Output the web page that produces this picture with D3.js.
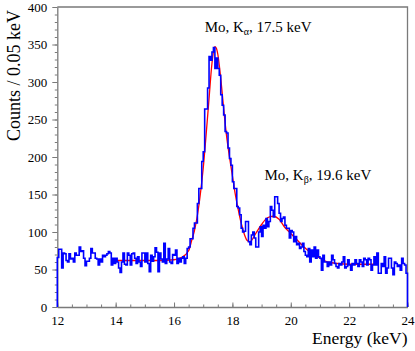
<!DOCTYPE html>
<html>
<head>
<meta charset="utf-8">
<script src="https://cdn.jsdelivr.net/npm/d3@7"></script>
<style>
    body { margin: 0; background: #fff; }
    svg text { font-family: "Liberation Serif", "Times New Roman", serif; fill: #000; }
</style>
</head>
<body>
<div id="chart-area"></div>
<script>
// Bin settings (0.05 keV bins from 12 to 24 keV)
const binStart = 12;
const binWidth = 0.05;

// Counts per bin
const counts = [
    66, 77, 77, 52, 72, 71, 62, 60, 71, 64, 65, 60, 72, 69, 69, 80, 74, 75, 65, 55,
    61, 61, 65, 78, 72, 72, 65, 64, 56, 64, 60, 69, 67, 69, 71, 74, 72, 56, 65, 58,
    65, 60, 52, 46, 60, 72, 57, 56, 72, 69, 56, 71, 72, 65, 58, 67, 60, 54, 72, 72,
    60, 72, 58, 47, 69, 61, 67, 79, 73, 47, 72, 64, 60, 85, 58, 64, 78, 60, 58, 70,
    69, 76, 58, 65, 60, 65, 67, 58, 65, 78, 80, 91, 91, 105, 112, 112, 138, 158, 158, 194,
    207, 264, 264, 292, 334, 329, 340, 346, 318, 332, 318, 309, 283, 269, 256, 234, 232, 212, 198, 189,
    167, 158, 158, 134, 132, 123, 105, 100, 101, 114, 114, 87, 83, 96, 100, 92, 80, 80, 100, 107,
    94, 109, 105, 118, 107, 114, 134, 129, 120, 147, 147, 138, 125, 114, 118, 120, 109, 105, 105, 92,
    102, 100, 87, 94, 83, 85, 78, 80, 85, 74, 69, 67, 78, 60, 76, 67, 80, 65, 76, 67,
    65, 49, 69, 60, 60, 54, 60, 56, 69, 63, 58, 54, 52, 58, 56, 60, 67, 52, 54, 63,
    56, 49, 58, 56, 63, 58, 54, 63, 60, 54, 65, 63, 56, 65, 63, 49, 56, 67, 56, 72,
    45, 45, 58, 54, 67, 45, 52, 65, 65, 52, 43, 60, 58, 54, 56, 49, 65, 58, 56, 45
];

// Fit curve
const fitEnergy = [14.0, 14.5, 15.0, 15.5, 16.0, 16.25, 16.5, 16.6, 16.7, 16.8, 16.9, 17.0, 17.1, 17.2, 17.3, 17.4,
    17.45, 17.5, 17.6, 17.7, 17.8, 17.9, 18.0, 18.1, 18.2, 18.3, 18.4, 18.5, 18.6, 18.8, 19.0, 19.2,
    19.4, 19.6, 19.8, 20.0, 20.2, 20.4, 20.6, 20.8, 21.0, 21.2, 21.4, 21.6, 22.0, 22.5, 23.0];
const fitCounts = [62, 62, 62, 62, 63, 66, 75, 88, 102, 122, 150, 185, 230, 278, 325, 347,
    345, 337, 305, 265, 228, 200, 175, 150, 130, 112, 98, 89, 87, 98, 110, 119,
    121, 117, 106, 98, 90, 82, 75, 70, 65, 61, 59, 58, 57, 57, 57];

// Tick values
const xMajorTicks = [12, 14, 16, 18, 20, 22, 24];
const xMinorTicks = d3.range(12, 24.01, 0.5);
const yMajorTicks = [0, 50, 100, 150, 200, 250, 300, 350, 400];
const yMinorTicks = d3.range(0, 401, 10);

// Peak labels
const peakLabels = [
    { line: "\u03b1", energy: "17.5 keV", x: 17.05, y: 367 },
    { line: "\u03b2", energy: "19.6 keV", x: 19.1, y: 170 }
];

// Set up chart dimensions
const width = 415;
const height = 351;
const margin = { top: 7, right: 7.5, bottom: 44, left: 57.3 };

const svg = d3.select("#chart-area")
    .append("svg")
    .attr("width", width)
    .attr("height", height);

const x = d3.scaleLinear().domain([12, 24]).range([margin.left, width - margin.right]);
const y = d3.scaleLinear().domain([0, 400]).range([height - margin.bottom, margin.top]);

const axisColor = "#7a7a7a";

// Frame (top and right sides)
svg.append("path")
    .attr("d", `M${x(12)},${y(400)}H${x(24)}V${y(0)}`)
    .attr("fill", "none")
    .attr("stroke", axisColor)
    .attr("stroke-width", 1.3);

// Minor ticks first, no labels
svg.append("g")
    .attr("transform", `translate(0,${y(0)})`)
    .call(d3.axisBottom(x).tickValues(xMinorTicks).tickSize(-2.5).tickFormat(""))
    .call(g => g.select(".domain").remove())
    .call(g => g.selectAll("line").attr("stroke", axisColor));

svg.append("g")
    .attr("transform", `translate(${x(12)},0)`)
    .call(d3.axisLeft(y).tickValues(yMinorTicks).tickSize(2.5).tickFormat(""))
    .call(g => g.select(".domain").remove())
    .call(g => g.selectAll("line").attr("stroke", axisColor));

// Major ticks with labels
const xAxis = svg.append("g")
    .attr("transform", `translate(0,${y(0)})`)
    .call(d3.axisBottom(x).tickValues(xMajorTicks).tickSize(-4.5).tickSizeOuter(0).tickPadding(9).tickFormat(d3.format("d")));

const yAxis = svg.append("g")
    .attr("transform", `translate(${x(12)},0)`)
    .call(d3.axisLeft(y).tickValues(yMajorTicks).tickSize(5).tickSizeOuter(0).tickPadding(5).tickFormat(d3.format("d")));

[xAxis, yAxis].forEach(g => {
    g.select(".domain").attr("stroke", axisColor).attr("stroke-width", 1.3);
    g.selectAll("line").attr("stroke", axisColor);
    g.selectAll("text")
        .style("font-family", "'Liberation Serif', serif")
        .style("font-size", "13px")
        .attr("fill", "#000");
});

// Fit curve (drawn under the histogram)
svg.append("path")
    .datum(fitEnergy.map((e, i) => [e, fitCounts[i]]))
    .attr("fill", "none")
    .attr("stroke", "#ff0000")
    .attr("stroke-width", 1.3)
    .attr("d", d3.line().x(d => x(d[0])).y(d => y(d[1])).curve(d3.curveMonotoneX));

// Histogram as a step line
const histPoints = [[binStart, 0]]
    .concat(counts.map((c, i) => [binStart + i * binWidth, c]))
    .concat([[binStart + counts.length * binWidth, counts[counts.length - 1]], [binStart + counts.length * binWidth, 0]]);

svg.append("path")
    .datum(histPoints)
    .attr("fill", "none")
    .attr("stroke", "#0000ff")
    .attr("stroke-width", 1.6)
    .attr("d", d3.line().x(d => x(d[0])).y(d => y(d[1])).curve(d3.curveStepAfter));

// Peak annotations
peakLabels.forEach(p => {
    const t = svg.append("text")
        .attr("x", x(p.x))
        .attr("y", y(p.y))
        .style("font-size", "15px");
    t.append("tspan").text("Mo, K");
    t.append("tspan").attr("dy", 3.5).style("font-size", "10px").text(p.line);
    t.append("tspan").attr("dy", -3.5).text(", " + p.energy);
});

// Axis titles
svg.append("text")
    .attr("text-anchor", "end")
    .attr("x", x(24))
    .attr("y", 344)
    .style("font-size", "17.5px")
    .text("Energy (keV)");

svg.append("text")
    .attr("text-anchor", "end")
    .attr("transform", "translate(20,10) rotate(-90)")
    .style("font-size", "18px")
    .text("Counts / 0.05 keV");
</script>
</body>
</html>
